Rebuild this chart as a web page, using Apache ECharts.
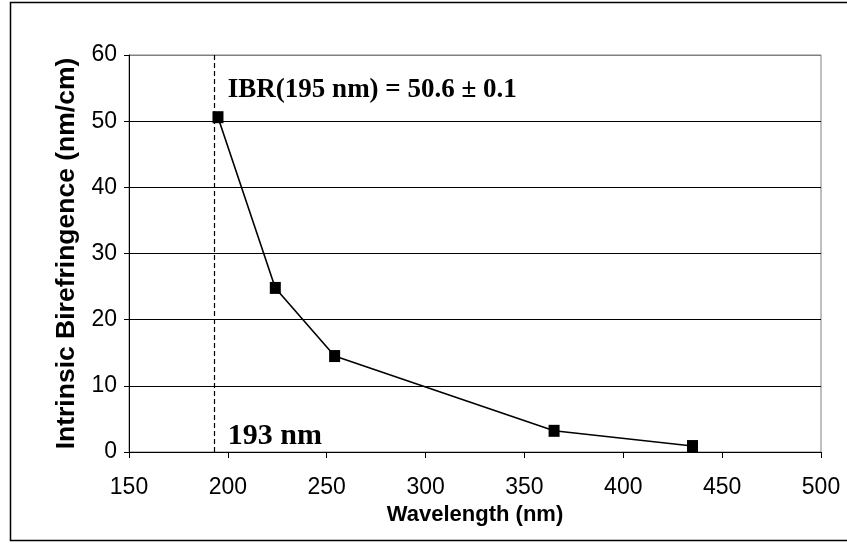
<!DOCTYPE html>
<html>
<head>
<meta charset="utf-8">
<script src="https://cdn.jsdelivr.net/npm/echarts@6/dist/echarts.min.js"></script>
<style>
  html, body { margin: 0; padding: 0; background: #fff; }
  #chart { width: 847px; height: 544px; }
</style>
</head>
<body>
<div id="chart"></div>
<script>
// 数据
var wavelength = [195, 224, 254, 365, 435];
var ibr = [50.6, 24.8, 14.5, 3.2, 0.9];
var cutoff = 193;
var xTicks = [150, 500, 50];   // min, max, interval
var yTicks = [0, 60, 10];
var notes = ['IBR(195 nm) = 50.6 \u00b1 0.1', '193 nm'];

var myChart = echarts.init(document.getElementById('chart'));

var points = [];
for (var i = 0; i < wavelength.length; i++) {
    points.push([wavelength[i], ibr[i]]);
}

var option = {
    animation: false,
    backgroundColor: '#fff',
    graphic: [
        {   // 外框
            type: 'rect',
            shape: { x: 10.5, y: 2.5, width: 850, height: 538 },
            style: { fill: 'none', stroke: '#000', lineWidth: 1.5 },
            silent: true
        }
    ],
    grid: {
        left: 129,
        right: 26,
        top: 55,
        bottom: 92,
        show: true,
        borderColor: '#808080',
        borderWidth: 1,
        backgroundColor: 'transparent'
    },
    xAxis: {
        type: 'value',
        min: xTicks[0],
        max: xTicks[1],
        interval: xTicks[2],
        name: 'Wavelength (nm)',
        nameLocation: 'middle',
        nameGap: 46,
        nameTextStyle: {
            fontFamily: 'Liberation Sans, Arial, sans-serif',
            fontWeight: 'bold',
            fontSize: 22,
            color: '#000'
        },
        axisLine: { show: true, onZero: false, lineStyle: { color: '#000', width: 1 } },
        axisTick: { show: true, length: 6, lineStyle: { color: '#000' } },
        axisLabel: {
            margin: 24,
            fontFamily: 'Liberation Sans, Arial, sans-serif',
            fontSize: 23,
            color: '#000'
        },
        splitLine: { show: false }
    },
    yAxis: {
        type: 'value',
        min: yTicks[0],
        max: yTicks[1],
        interval: yTicks[2],
        name: 'Intrinsic Birefringence (nm/cm)',
        nameLocation: 'middle',
        nameGap: 47,
        nameTextStyle: {
            fontFamily: 'Liberation Sans, Arial, sans-serif',
            fontWeight: 'bold',
            fontSize: 26.5,
            color: '#000'
        },
        axisLine: { show: true, lineStyle: { color: '#000', width: 1 } },
        axisTick: { show: true, length: 5, lineStyle: { color: '#000' } },
        axisLabel: {
            margin: 12,
            fontFamily: 'Liberation Sans, Arial, sans-serif',
            fontSize: 23,
            color: '#000'
        },
        splitLine: {
            show: true,
            lineStyle: {
                color: ['#000', '#000', '#000', '#000', '#000', '#000', '#808080'],
                width: 1
            }
        }
    },
    series: [
        {
            type: 'line',
            data: points,
            symbol: 'rect',
            symbolSize: [11, 12],
            itemStyle: { color: '#000' },
            lineStyle: { color: '#000', width: 1.6 },
            z: 5,
            markLine: {
                silent: true,
                symbol: ['none', 'none'],
                label: { show: false },
                lineStyle: { color: '#000', type: [5, 3], width: 1.2 },
                data: [{ xAxis: cutoff }]
            },
            markPoint: {
                symbol: 'rect',
                symbolSize: 0,
                label: {
                    show: true,
                    position: 'right',
                    distance: 0,
                    fontFamily: 'Liberation Serif, Times New Roman, serif',
                    fontWeight: 'bold',
                    fontSize: 27,
                    color: '#000'
                },
                data: [
                    { coord: [200, 54.7], value: notes[0], label: { formatter: notes[0] } },
                    { coord: [200, 2.4], value: notes[1], label: { formatter: notes[1], fontSize: 30 } }
                ]
            }
        }
    ]
};

myChart.setOption(option);
</script>
</body>
</html>
